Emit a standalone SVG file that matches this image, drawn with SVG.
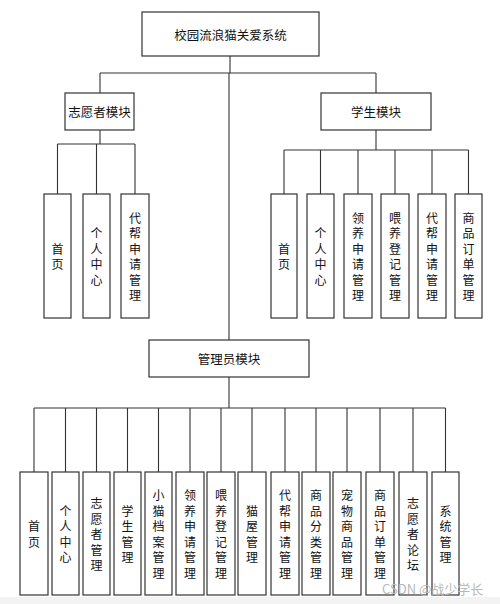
<svg xmlns="http://www.w3.org/2000/svg" width="500" height="604" viewBox="0 0 500 604">
<style>
.box{fill:#fff;stroke:#333;stroke-width:1.2}
.ln{fill:none;stroke:#333;stroke-width:1.1}
text{font-family:"Noto Sans CJK SC","Liberation Sans",sans-serif;font-size:12px;fill:#111}
.v{text-anchor:middle;dominant-baseline:central}
.h{text-anchor:middle;dominant-baseline:central;font-size:12.5px}
</style>
<rect x="0" y="0" width="500" height="604" fill="#fff"/>
<rect x="0" y="597" width="500" height="7" fill="#f3f3f3"/>
<g id="connectors" class="ln">
<path d="M230 56V73M100 73H376M100 73V93M376 73V93M229 73V340"/>
<path d="M100 130V144M57.5 144H135M57.5 144V194M96.5 144V194M135 144V194"/>
<path d="M376 130V150M284 150H468.5M284 150V194M320.5 150V194M358 150V194M395 150V194M432 150V194M468.5 150V194"/>
<path d="M229 377V408M34 408H445.5M34 408V472M65.5 408V472M96.5 408V472M127.5 408V472M158.5 408V472M190 408V472M221 408V472M252 408V472M285 408V472M316 408V472M347 408V472M380 408V472M413 408V472M445.5 408V472"/>
</g>
<g id="root"><rect class="box" x="142" y="12" width="177" height="44"/><text class="h" x="230.5" y="34">校园流浪猫关爱系统</text></g>
<g id="volunteer"><rect class="box" x="65" y="93" width="69" height="37"/><text class="h" x="99.5" y="111.5">志愿者模块</text></g>
<g id="student"><rect class="box" x="321" y="93" width="110" height="37"/><text class="h" x="376" y="111.5">学生模块</text></g>
<g id="admin"><rect class="box" x="149" y="340" width="160" height="37"/><text class="h" x="229" y="358.5">管理员模块</text></g>

<g id="v1"><rect class="box" x="44" y="194" width="27" height="124"/><text class="v" x="57.5 57.5" y="248.25 263.75">首页</text></g>
<g id="v2"><rect class="box" x="83" y="194" width="27" height="124"/><text class="v" x="96.5 96.5 96.5 96.5" y="232.75 248.25 263.75 279.25">个人中心</text></g>
<g id="v3"><rect class="box" x="121" y="194" width="28" height="124"/><text class="v" x="135 135 135 135 135 135" y="217.25 232.75 248.25 263.75 279.25 294.75">代帮申请管理</text></g>

<g id="s1"><rect class="box" x="271" y="194" width="26" height="124"/><text class="v" x="284 284" y="248.25 263.75">首页</text></g>
<g id="s2"><rect class="box" x="307" y="194" width="27" height="124"/><text class="v" x="320.5 320.5 320.5 320.5" y="232.75 248.25 263.75 279.25">个人中心</text></g>
<g id="s3"><rect class="box" x="344" y="194" width="28" height="124"/><text class="v" x="358 358 358 358 358 358" y="217.25 232.75 248.25 263.75 279.25 294.75">领养申请管理</text></g>
<g id="s4"><rect class="box" x="381" y="194" width="28" height="124"/><text class="v" x="395 395 395 395 395 395" y="217.25 232.75 248.25 263.75 279.25 294.75">喂养登记管理</text></g>
<g id="s5"><rect class="box" x="418" y="194" width="28" height="124"/><text class="v" x="432 432 432 432 432 432" y="217.25 232.75 248.25 263.75 279.25 294.75">代帮申请管理</text></g>
<g id="s6"><rect class="box" x="455" y="194" width="27" height="124"/><text class="v" x="468.5 468.5 468.5 468.5 468.5 468.5" y="217.25 232.75 248.25 263.75 279.25 294.75">商品订单管理</text></g>

<g id="a1"><rect class="box" x="20" y="472" width="28" height="123"/><text class="v" x="34 34" y="525.75 541.25">首页</text></g>
<g id="a2"><rect class="box" x="52" y="472" width="27" height="123"/><text class="v" x="65.5 65.5 65.5 65.5" y="510.25 525.75 541.25 556.75">个人中心</text></g>
<g id="a3"><rect class="box" x="83" y="472" width="27" height="123"/><text class="v" x="96.5 96.5 96.5 96.5 96.5" y="502.5 518 533.5 549 564.5">志愿者管理</text></g>
<g id="a4"><rect class="box" x="114" y="472" width="27" height="123"/><text class="v" x="127.5 127.5 127.5 127.5" y="510.25 525.75 541.25 556.75">学生管理</text></g>
<g id="a5"><rect class="box" x="145" y="472" width="27" height="123"/><text class="v" x="158.5 158.5 158.5 158.5 158.5 158.5" y="494.75 510.25 525.75 541.25 556.75 572.25">小猫档案管理</text></g>
<g id="a6"><rect class="box" x="176" y="472" width="28" height="123"/><text class="v" x="190 190 190 190 190 190" y="494.75 510.25 525.75 541.25 556.75 572.25">领养申请管理</text></g>
<g id="a7"><rect class="box" x="207" y="472" width="28" height="123"/><text class="v" x="221 221 221 221 221 221" y="494.75 510.25 525.75 541.25 556.75 572.25">喂养登记管理</text></g>
<g id="a8"><rect class="box" x="238" y="472" width="28" height="123"/><text class="v" x="252 252 252 252" y="510.25 525.75 541.25 556.75">猫屋管理</text></g>
<g id="a9"><rect class="box" x="271" y="472" width="28" height="123"/><text class="v" x="285 285 285 285 285 285" y="494.75 510.25 525.75 541.25 556.75 572.25">代帮申请管理</text></g>
<g id="a10"><rect class="box" x="302" y="472" width="28" height="123"/><text class="v" x="316 316 316 316 316 316" y="494.75 510.25 525.75 541.25 556.75 572.25">商品分类管理</text></g>
<g id="a11"><rect class="box" x="333" y="472" width="28" height="123"/><text class="v" x="347 347 347 347 347 347" y="494.75 510.25 525.75 541.25 556.75 572.25">宠物商品管理</text></g>
<g id="a12"><rect class="box" x="366" y="472" width="28" height="123"/><text class="v" x="380 380 380 380 380 380" y="494.75 510.25 525.75 541.25 556.75 572.25">商品订单管理</text></g>
<g id="a13"><rect class="box" x="399" y="472" width="28" height="123"/><text class="v" x="413 413 413 413 413" y="502.5 518 533.5 549 564.5">志愿者论坛</text></g>
<g id="a14"><rect class="box" x="432" y="472" width="27" height="123"/><text class="v" x="445.5 445.5 445.5 445.5" y="510.25 525.75 541.25 556.75">系统管理</text></g>

<text x="382" y="594" style="font-size:13px;fill:#b8b8b8">CSDN @战少学长</text>
</svg>
